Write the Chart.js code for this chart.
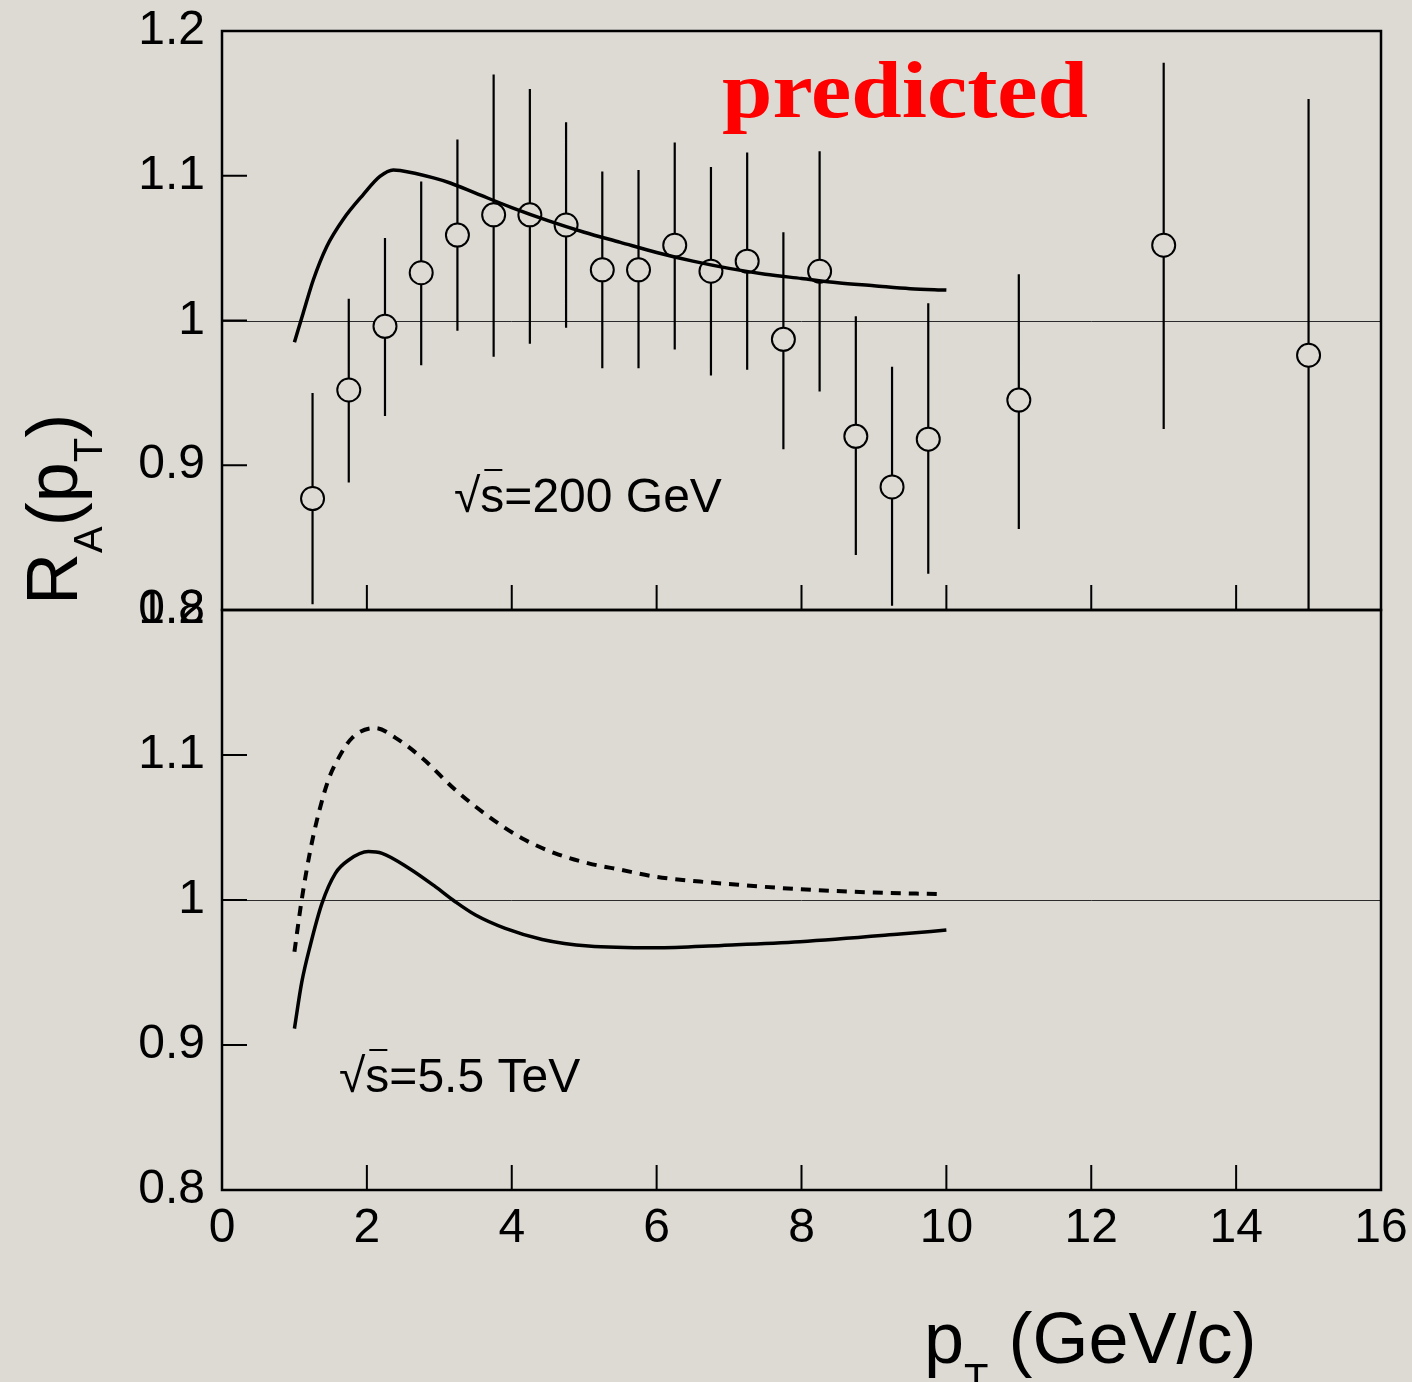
<!DOCTYPE html>
<html>
<head>
<meta charset="utf-8">
<script src="https://cdn.jsdelivr.net/npm/chart.js@4.4.1/dist/chart.umd.min.js"></script>
<style>
  html, body { margin: 0; padding: 0; background: #dddad4; }
  #wrap { position: relative; width: 1412px; height: 1382px; overflow: hidden; background: #dddad4; }
  #wrap canvas { position: absolute; left: 0; top: 0; }
</style>
</head>
<body>
<div id="wrap">
  <canvas id="rhic" width="1412" height="1382"></canvas>
  <canvas id="lhc" width="1412" height="1382"></canvas>
</div>
<script>
// ---- axis ticks ----
const xTickValues = [0, 2, 4, 6, 8, 10, 12, 14, 16];
const xTickLabels = ['0', '2', '4', '6', '8', '10', '12', '14', '16'];
const yTickValues = [0.8, 0.9, 1.0, 1.1, 1.2];
const yTickLabels = ['0.8', '0.9', '1', '1.1', '1.2'];

// ---- sqrt(s)=200 GeV: measured R_A(pT) with errors ----
const dataPt = [1.25, 1.75, 2.25, 2.75, 3.25, 3.75, 4.25, 4.75, 5.25, 5.75, 6.25,
                6.75, 7.25, 7.75, 8.25, 8.75, 9.25, 9.75, 11, 13, 15];
const dataRA = [0.877, 0.952, 0.996, 1.033, 1.059, 1.073, 1.073, 1.066, 1.035, 1.035, 1.052,
                1.034, 1.041, 0.987, 1.034, 0.920, 0.885, 0.918, 0.945, 1.052, 0.976];
const dataHi = [0.950, 1.015, 1.057, 1.096, 1.125, 1.170, 1.160, 1.137, 1.103, 1.104, 1.123,
                1.106, 1.116, 1.061, 1.117, 1.003, 0.968, 1.012, 1.032, 1.178, 1.153];
const dataLo = [0.804, 0.888, 0.934, 0.969, 0.993, 0.975, 0.984, 0.995, 0.967, 0.967, 0.980,
                0.962, 0.966, 0.911, 0.951, 0.838, 0.803, 0.825, 0.856, 0.925, 0.799];

// ---- sqrt(s)=200 GeV: calculation ----
const rhicPt = [1.0, 1.12, 1.26, 1.445, 1.675, 1.95, 2.18, 2.365, 2.46, 2.92, 3.15, 3.5,
                4.0, 4.5, 5.0, 5.5, 6.0, 6.5, 7.0, 7.5, 8.0, 8.5, 9.0, 9.5, 10.0];
const rhicRA = [0.985, 1.005, 1.028, 1.051, 1.070, 1.087, 1.0995, 1.104, 1.1036, 1.0985, 1.095, 1.088,
                1.078, 1.069, 1.061, 1.054, 1.047, 1.041, 1.036, 1.032, 1.029, 1.026, 1.024, 1.022, 1.021];

// ---- sqrt(s)=5.5 TeV: calculations ----
const lhcSolidPt = [1.0, 1.10, 1.22, 1.38, 1.565, 1.75, 2.02, 2.21, 2.58, 2.945, 3.22, 3.5,
                    3.91, 4.42, 5.06, 5.98, 6.9, 7.98, 9.36, 10.0];
const lhcSolidRA = [0.9113, 0.9430, 0.9690, 0.9977, 1.0184, 1.0276, 1.0334, 1.0322, 1.0219, 1.0092, 0.9988, 0.9896,
                    0.9804, 0.9728, 0.9682, 0.9670, 0.9687, 0.9712, 0.9765, 0.9793];
const lhcDashPt = [1.0, 1.10, 1.22, 1.335, 1.47, 1.61, 1.80, 2.12, 2.39, 2.76, 3.22, 3.68,
                   4.14, 4.60, 5.06, 5.52, 5.98, 6.6, 7.0, 7.98, 9.0, 9.87];
const lhcDashRA = [0.9643, 1.0, 1.0345, 1.060, 1.083, 1.098, 1.112, 1.1186, 1.112, 1.098, 1.076, 1.0576,
                   1.0426, 1.0322, 1.0253, 1.0207, 1.0161, 1.0127, 1.0110, 1.0074, 1.0052, 1.0041];

const BG = '#dddad4';
const SANS = '"Liberation Sans", Arial, Helvetica, sans-serif';
const TICK_LEN = 25;

const pairs = (xs, ys) => xs.map((x, i) => ({ x, y: ys[i] }));
const labelFor = (vals, labels) => (v) => {
  const i = vals.findIndex(t => Math.abs(t - v) < 1e-6);
  return i >= 0 ? labels[i] : '';
};

// thin unity line, inward tick marks and the panel box
const panelFrame = {
  id: 'panelFrame',
  beforeDatasetsDraw(chart) {
    const { ctx, chartArea: a, scales: { y } } = chart;
    const py = Math.round(y.getPixelForValue(1.0)) + 0.5;
    ctx.save();
    ctx.strokeStyle = '#2b2b2b';
    ctx.lineWidth = 1;
    ctx.beginPath();
    ctx.moveTo(a.left, py);
    ctx.lineTo(a.right, py);
    ctx.stroke();
    ctx.restore();
  },
  afterDatasetsDraw(chart) {
    const { ctx, chartArea: a, scales: { x, y } } = chart;
    ctx.save();
    ctx.strokeStyle = '#000';
    ctx.lineWidth = 2;
    ctx.beginPath();
    xTickValues.forEach(v => {
      const px = x.getPixelForValue(v);
      ctx.moveTo(px, a.bottom);
      ctx.lineTo(px, a.bottom - TICK_LEN);
    });
    yTickValues.forEach(v => {
      const py = y.getPixelForValue(v);
      ctx.moveTo(a.left, py);
      ctx.lineTo(a.left + TICK_LEN, py);
    });
    ctx.stroke();
    ctx.lineWidth = 2.5;
    ctx.strokeRect(a.left, a.top, a.right - a.left, a.bottom - a.top);
    ctx.restore();
  }
};

// vertical error bars for the measured points
const errorBars = {
  id: 'errorBars',
  beforeDatasetsDraw(chart) {
    const { ctx, chartArea: a, scales: { x, y } } = chart;
    ctx.save();
    ctx.beginPath();
    ctx.rect(a.left, a.top, a.right - a.left, a.bottom - a.top);
    ctx.clip();
    ctx.strokeStyle = '#000';
    ctx.lineWidth = 2.2;
    ctx.beginPath();
    dataPt.forEach((v, i) => {
      const px = x.getPixelForValue(v);
      ctx.moveTo(px, y.getPixelForValue(dataLo[i]));
      ctx.lineTo(px, y.getPixelForValue(dataHi[i]));
    });
    ctx.stroke();
    ctx.restore();
  }
};

// text made of pieces with their own font and baseline shift (subscripts)
function drawRuns(ctx, runs, x, y) {
  let cx = x;
  runs.forEach(r => {
    ctx.font = r.font;
    ctx.fillText(r.t, cx, y + (r.dy || 0));
    cx += ctx.measureText(r.t).width;
  });
}

// "√s" with a bar over the s, followed by the energy
function drawSqrtS(ctx, rest, x, y) {
  ctx.font = '48px ' + SANS;
  ctx.fillStyle = '#000';
  ctx.textBaseline = 'alphabetic';
  ctx.textAlign = 'left';
  ctx.fillText('\u221As' + rest, x, y);
  const wr = ctx.measureText('\u221A').width;
  const ws = ctx.measureText('s').width;
  ctx.strokeStyle = '#000';
  ctx.lineWidth = 2;
  ctx.beginPath();
  ctx.moveTo(x + wr + 4, y - 42);
  ctx.lineTo(x + wr + ws - 2, y - 42);
  ctx.stroke();
}

const rhicText = {
  id: 'rhicText',
  afterDraw(chart) {
    const ctx = chart.ctx;
    ctx.save();
    drawSqrtS(ctx, '=200 GeV', 454, 512);
    ctx.font = 'bold 81px "Liberation Serif", "Times New Roman", serif';
    ctx.fillStyle = '#ff0000';
    const w = ctx.measureText('predicted').width;
    ctx.translate(722, 117);
    ctx.scale(366 / w, 1);
    ctx.fillText('predicted', 0, 0);
    ctx.restore();

    // y axis title, rotated
    ctx.save();
    ctx.fillStyle = '#000';
    ctx.textBaseline = 'alphabetic';
    ctx.textAlign = 'left';
    ctx.translate(77, 605);
    ctx.rotate(-Math.PI / 2);
    drawRuns(ctx, [
      { t: 'R', font: '72px ' + SANS },
      { t: 'A', font: '40px ' + SANS, dy: 25 },
      { t: '(p', font: '72px ' + SANS },
      { t: 'T', font: '40px ' + SANS, dy: 25 },
      { t: ')', font: '72px ' + SANS }
    ], 0, 0);
    ctx.restore();
  }
};

const lhcText = {
  id: 'lhcText',
  afterDraw(chart) {
    const ctx = chart.ctx;
    ctx.save();
    drawSqrtS(ctx, '=5.5 TeV', 339, 1092);
    ctx.fillStyle = '#000';
    drawRuns(ctx, [
      { t: 'p', font: '72px ' + SANS },
      { t: 'T', font: '40px ' + SANS, dy: 29 },
      { t: ' (GeV/c)', font: '72px ' + SANS }
    ], 924, 1363);
    ctx.restore();
  }
};

function xScale(showLabels, height) {
  return {
    type: 'linear', min: 0, max: 16,
    afterBuildTicks(s) { s.ticks = xTickValues.map(v => ({ value: v })); },
    afterFit(s) { s.height = height; s.paddingLeft = 0; s.paddingRight = 0; },
    grid: { display: false, drawTicks: false },
    border: { display: false },
    ticks: {
      display: showLabels, padding: 10, color: '#000', maxRotation: 0, autoSkip: false,
      font: { family: SANS, size: 48 },
      callback: labelFor(xTickValues, xTickLabels)
    }
  };
}

function yScale() {
  return {
    type: 'linear', min: 0.8, max: 1.2,
    afterBuildTicks(s) { s.ticks = yTickValues.map(v => ({ value: v })); },
    afterFit(s) { s.width = 222; s.paddingTop = 0; s.paddingBottom = 0; },
    grid: { display: false, drawTicks: false },
    border: { display: false },
    ticks: {
      padding: 17, color: '#000', autoSkip: false,
      font: { family: SANS, size: 48 },
      callback: labelFor(yTickValues, yTickLabels)
    }
  };
}

const common = {
  responsive: false,
  animation: false,
  devicePixelRatio: 1,
  plugins: { legend: { display: false }, tooltip: { enabled: false } },
  events: []
};

// upper panel: sqrt(s) = 200 GeV
new Chart(document.getElementById('rhic'), {
  data: {
    datasets: [
      {
        type: 'line', label: 'calculation 200 GeV',
        data: pairs(rhicPt, rhicRA),
        borderColor: '#000', borderWidth: 3.5, pointRadius: 0,
        cubicInterpolationMode: 'monotone', fill: false, order: 0
      },
      {
        type: 'scatter', label: 'data 200 GeV',
        data: pairs(dataPt, dataRA),
        pointRadius: 11.5, pointHoverRadius: 11.5, pointBorderWidth: 2,
        pointBorderColor: '#000', pointBackgroundColor: BG, order: 1
      }
    ]
  },
  options: {
    ...common,
    layout: { padding: { top: 31, right: 31, bottom: 772, left: 0 } },
    scales: { x: xScale(false, 0), y: yScale() }
  },
  plugins: [panelFrame, errorBars, rhicText]
});

// lower panel: sqrt(s) = 5.5 TeV
new Chart(document.getElementById('lhc'), {
  data: {
    datasets: [
      {
        type: 'line', label: 'calculation 5.5 TeV (solid)',
        data: pairs(lhcSolidPt, lhcSolidRA),
        borderColor: '#000', borderWidth: 3.5, pointRadius: 0,
        cubicInterpolationMode: 'monotone', fill: false
      },
      {
        type: 'line', label: 'calculation 5.5 TeV (dashed)',
        data: pairs(lhcDashPt, lhcDashRA),
        borderColor: '#000', borderWidth: 4, borderDash: [10, 8], pointRadius: 0,
        cubicInterpolationMode: 'monotone', fill: false
      }
    ]
  },
  options: {
    ...common,
    layout: { padding: { top: 610, right: 31, bottom: 0, left: 0 } },
    scales: { x: xScale(true, 192), y: yScale() }
  },
  plugins: [panelFrame, lhcText]
});
</script>
</body>
</html>
